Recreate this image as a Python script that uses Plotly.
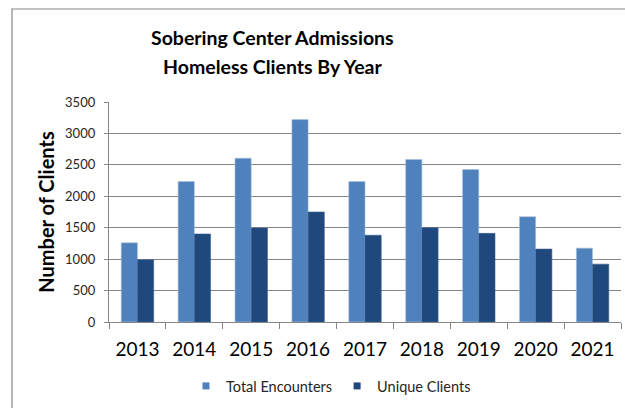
import plotly.graph_objects as go

years = ["2013", "2014", "2015", "2016", "2017", "2018", "2019", "2020", "2021"]
total_encounters = [1260, 2235, 2605, 3220, 2235, 2585, 2425, 1675, 1175]
unique_clients = [990, 1400, 1495, 1750, 1380, 1500, 1410, 1160, 920]
series_names = ["Total Encounters", "Unique Clients"]
series_colors = ["#4F81BD", "#1F497D"]
title_lines = ["Sobering Center Admissions", "Homeless Clients By Year"]

FONT = "Lato"

fig = go.Figure()
for name, vals, col, edge in zip(series_names, [total_encounters, unique_clients],
                                 series_colors, ["#A7C0DE", "#3A5F8F"]):
    fig.add_trace(go.Bar(
        x=years, y=vals, name=name, showlegend=False,
        marker=dict(color=col, line=dict(color=edge, width=0.6)),
    ))
    # small square legend swatch, Excel style
    fig.add_trace(go.Scatter(
        x=[None], y=[None], mode="markers", name=name,
        marker=dict(symbol="square", size=7, color=col),
    ))

fig.update_layout(
    width=625, height=408,
    margin=dict(l=109, r=4, t=102, b=86),
    paper_bgcolor="white", plot_bgcolor="white",
    font=dict(family=FONT, color="#262626"),
    barmode="group", bargap=0.43, bargroupgap=0,
    legend=dict(
        orientation="h", x=(186 - 109) / 512, xanchor="left",
        y=(322 - 386) / 220, yanchor="middle",
        font=dict(family=FONT, size=14.5, color="#262626"),
        itemwidth=30, tracegroupgap=0,
    ),
    showlegend=True,
)

# two title lines, Excel spacing
for line, ypix in zip(title_lines, [37, 67]):
    fig.add_annotation(
        text="<b>%s</b>" % line, xref="paper", yref="paper",
        x=(272 - 109) / 512, y=(322 - ypix) / 220,
        xanchor="center", yanchor="middle", showarrow=False,
        font=dict(family=FONT, size=19.5, color="#000000"),
    )

fig.update_xaxes(
    type="category", showgrid=False,
    showline=True, linecolor="#868686", linewidth=1.3,
    ticks="outside", tickson="boundaries", ticklen=6, tickcolor="#868686",
    ticklabelstandoff=10,
    tickfont=dict(family=FONT, size=19, color="#000000"),
)
fig.update_yaxes(
    range=[0, 3500], dtick=500,
    showgrid=True, gridcolor="#868686", gridwidth=1.3,
    showline=True, linecolor="#868686", linewidth=1.3,
    ticks="outside", ticklen=4, tickcolor="#868686",
    ticklabelstandoff=6,
    tickfont=dict(family=FONT, size=13, color="#262626"),
    title=dict(text="<b>Number of Clients</b>", standoff=5,
               font=dict(family=FONT, size=20, color="#000000")),
    zeroline=False,
)

# outer chart frame (only top and left edges fall inside the image)
fig.add_shape(
    type="rect", xref="paper", yref="paper",
    x0=(12 - 109) / 512, x1=(628 - 109) / 512,
    y0=(322 - 411) / 220, y1=(322 - 9) / 220,
    line=dict(color="#888888", width=1.2), fillcolor="rgba(0,0,0,0)",
    layer="below",
)

fig.write_html("out.html", config={"displayModeBar": False},
               post_script="document.body.style.margin='0';"
                           "document.body.style.overflow='hidden';")
